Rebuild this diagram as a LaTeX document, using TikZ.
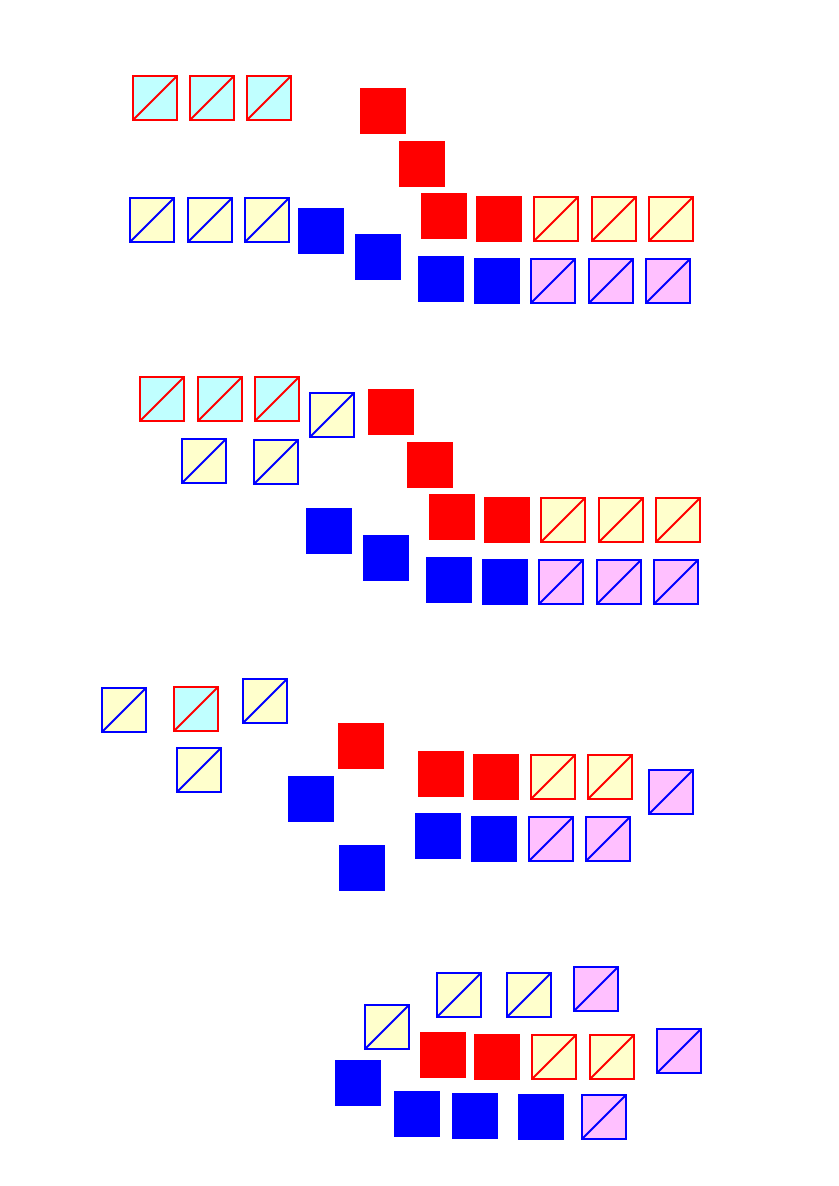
\documentclass[tikz,border=0pt]{standalone}
\usepackage{tikz}

\definecolor{paleCyan}{RGB}{192,255,255}
\definecolor{paleYellow}{RGB}{255,255,204}
\definecolor{palePink}{RGB}{255,192,255}

\begin{document}
\begin{tikzpicture}[x=0.025cm,y=-0.025cm,
	solid/.style={fill=#1, minimum size=1.1675cm, inner sep=0pt, outer sep=0pt},
	half/.style 2 args={draw=#1, fill=#2, line width=0.05cm, minimum size=1.12cm, inner sep=0pt, outer sep=0pt,
		path picture={\draw[#1, line width=0.05cm] (path picture bounding box.south west) -- (path picture bounding box.north east);}},
	rc/.style={half={red}{paleCyan}},
	ry/.style={half={red}{paleYellow}},
	by/.style={half={blue}{paleYellow}},
	bp/.style={half={blue}{palePink}}]

	\useasboundingbox (0,0) rectangle (839,1186);

	\node[rc] (c1a) at (155,98) {};
	\node[rc] (c1b) at (212,98) {};
	\node[rc] (c1c) at (269,98) {};
	\node[solid=red] (r1a) at (383,111) {};
	\node[solid=red] (r1b) at (422,164) {};
	\node[solid=red] (r1c) at (444,216) {};
	\node[solid=red] (r1d) at (499,219) {};
	\node[ry] (y1a) at (556,219) {};
	\node[ry] (y1b) at (614,219) {};
	\node[ry] (y1c) at (671,219) {};
	\node[by] (e1a) at (152,220) {};
	\node[by] (e1b) at (210,220) {};
	\node[by] (e1c) at (267,220) {};
	\node[solid=blue] (b1a) at (321,231) {};
	\node[solid=blue] (b1b) at (378,257) {};
	\node[solid=blue] (b1c) at (441,279) {};
	\node[solid=blue] (b1d) at (497,281) {};
	\node[bp] (p1a) at (553,281) {};
	\node[bp] (p1b) at (611,281) {};
	\node[bp] (p1c) at (668,281) {};

	\node[rc] (c2a) at (162,399) {};
	\node[rc] (c2b) at (220,399) {};
	\node[rc] (c2c) at (277,399) {};
	\node[by] (e2a) at (332,415) {};
	\node[by] (e2b) at (204,461) {};
	\node[by] (e2c) at (276,462) {};
	\node[solid=red] (r2a) at (391,412) {};
	\node[solid=red] (r2b) at (430,465) {};
	\node[solid=red] (r2c) at (452,517) {};
	\node[solid=red] (r2d) at (507,520) {};
	\node[ry] (y2a) at (563,520) {};
	\node[ry] (y2b) at (621,520) {};
	\node[ry] (y2c) at (678,520) {};
	\node[solid=blue] (b2a) at (329,531) {};
	\node[solid=blue] (b2b) at (386,558) {};
	\node[solid=blue] (b2c) at (449,580) {};
	\node[solid=blue] (b2d) at (505,582) {};
	\node[bp] (p2a) at (561,582) {};
	\node[bp] (p2b) at (619,582) {};
	\node[bp] (p2c) at (676,582) {};

	\node[by] (e3a) at (124,710) {};
	\node[rc] (c3a) at (196,709) {};
	\node[by] (e3b) at (265,701) {};
	\node[by] (e3c) at (199,770) {};
	\node[solid=red] (r3a) at (361,746) {};
	\node[solid=blue] (b3a) at (311,799) {};
	\node[solid=blue] (b3b) at (362,868) {};
	\node[solid=red] (r3b) at (441,774) {};
	\node[solid=red] (r3c) at (496,777) {};
	\node[ry] (y3a) at (553,777) {};
	\node[ry] (y3b) at (610,777) {};
	\node[bp] (p3a) at (671,792) {};
	\node[solid=blue] (b3c) at (438,836) {};
	\node[solid=blue] (b3d) at (494,839) {};
	\node[bp] (p3b) at (551,839) {};
	\node[bp] (p3c) at (608,839) {};

	\node[by] (e4a) at (387,1027) {};
	\node[by] (e4b) at (459,995) {};
	\node[by] (e4c) at (529,995) {};
	\node[bp] (p4a) at (596,989) {};
	\node[solid=red] (r4a) at (443,1055) {};
	\node[solid=red] (r4b) at (497,1057) {};
	\node[ry] (y4a) at (554,1057) {};
	\node[ry] (y4b) at (612,1057) {};
	\node[bp] (p4b) at (679,1051) {};
	\node[solid=blue] (b4a) at (358,1083) {};
	\node[solid=blue] (b4b) at (417,1114) {};
	\node[solid=blue] (b4c) at (475,1116) {};
	\node[solid=blue] (b4d) at (541,1117) {};
	\node[bp] (p4c) at (604,1117) {};
\end{tikzpicture}
\end{document}
